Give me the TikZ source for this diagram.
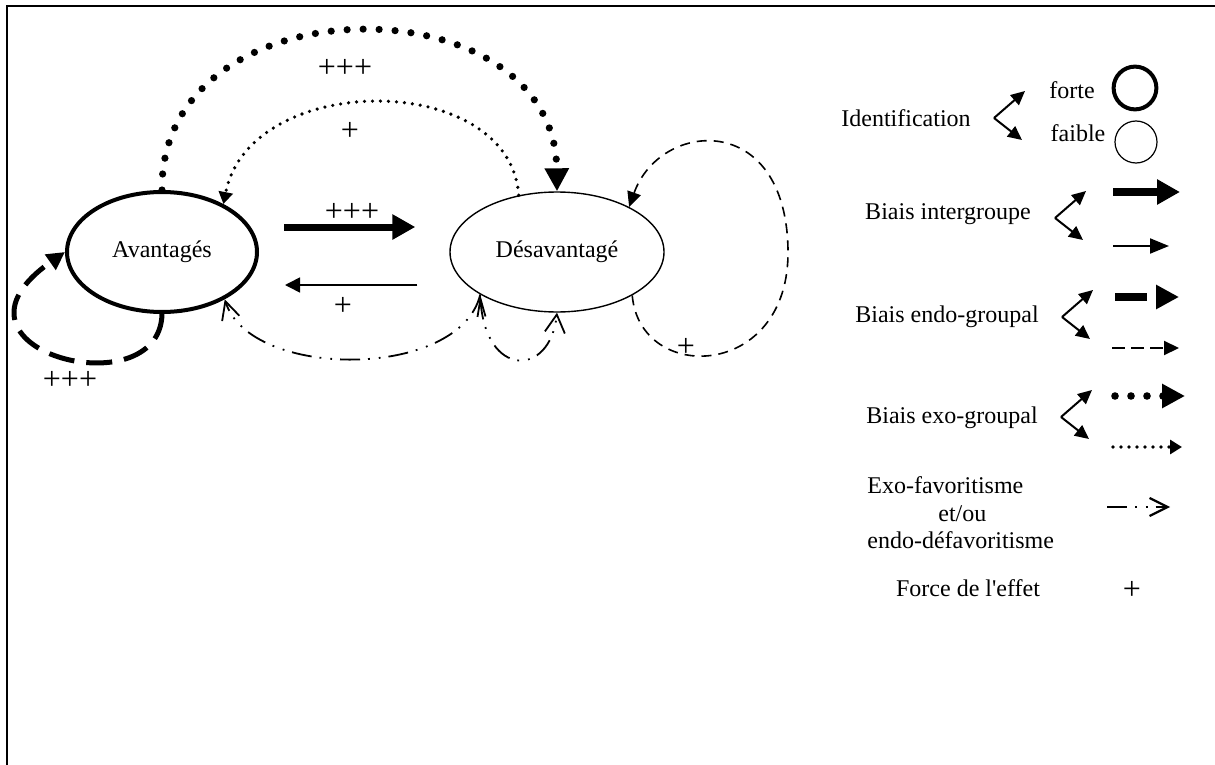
\documentclass[tikz,border=0pt]{standalone}
\usepackage{fontspec}
\setmainfont{Liberation Serif}
\usetikzlibrary{arrows.meta,calc,shapes.geometric}
\newcommand{\legfont}{\fontsize{12}{13.75}\selectfont}
\newcommand{\plusfont}{\fontsize{16}{18}\selectfont}
% fourche de la legende, sommet nomme #1
\def\fourche#1(#2,#3){\coordinate (#1) at (#2,#3); \draw[fork] (#1) -- ++(31,-27); \draw[fork] (#1) -- ++(28,22);}
\tikzset{
  grp/.style={ellipse, draw, inner sep=0pt, font=\legfont},
  lbl/.style={font=\legfont, inner sep=0pt},
  plus/.style={font=\plusfont, inner sep=0pt},
  fork/.style={line width=1pt, -{Triangle[length=7pt,width=6.5pt]}},
  interfort/.style={line width=3.5pt, -{Triangle[length=11.5pt,width=12pt]}},
  interfaible/.style={line width=0.8pt, -{Triangle[length=7.5pt,width=7.5pt]}},
  endofort/.style={line width=2.5pt, dash pattern=on 13pt off 6pt, -{Triangle[length=9pt,width=9pt]}},
  endofaible/.style={line width=0.8pt, dash pattern=on 5pt off 3.5pt, -{Triangle[length=7.5pt,width=7pt]}},
  exofort/.style={line width=3.6pt, line cap=round, dash pattern=on 0pt off 8pt, -{Triangle[length=11.5pt,width=11.5pt]}},
  exofaible/.style={line width=1.8pt, line cap=round, dash pattern=on 0pt off 4pt, -{Triangle[length=6pt,width=7pt]}},
  exofav/.style={line width=0.9pt, dash pattern=on 10pt off 4pt on 0.9pt off 4.5pt on 0.9pt off 4pt},
}
\begin{document}
\begin{tikzpicture}[x=0.5pt, y=-0.5pt]
  %%%%% CADRE %%%%%
  \useasboundingbox (0,0) rectangle (1215,765);
  \draw[line width=1pt] (7,765) -- (7,6) -- (1215,6);

  %%%%% GROUPES %%%%%
  \node[grp, line width=2pt, minimum width=95pt, minimum height=60pt] (avant) at (162,252) {Avantagés};
  \node[grp, line width=0.7pt, minimum width=107pt, minimum height=60pt] (desav) at (557,252) {Désavantagé};

  % biais intergroupe
  \draw[interfort] ($(avant.east)+(25,-25)$) -- ($(desav.west)+(-34,-25)$);
  \node[plus] (p1) at (352,212) {+++};
  \draw[interfaible] ($(desav.west)+(-32,33)$) -- ($(avant.east)+(26,33)$);
  \node[plus] (p2) at (343,306) {+};

  % biais exo-groupal
  \draw[exofort] (avant.north) .. controls (160,-21) and (555,-21) .. (desav.north);
  \node[plus] (p3) at (345,68) {+++};
  \draw[exofaible] (desav.124) .. controls (510,70) and (250,70) .. (avant.38);
  \node[plus] (p4) at (350,131) {+};

  % biais endo-groupal
  \draw[endofort] (avant.south) .. controls (160,410) and (-75,350) .. (avant.west);
  \node[plus] (p5) at (70,380) {+++};
  \draw[endofaible] (desav.-30) .. controls (640,385) and (790,380) .. (788,250)
    .. controls (786,110) and (660,120) .. (desav.32);
  \node[plus] (p6) at (686,347) {+};

  % exo-favoritisme / endo-defavoritisme
  \draw[exofav, -{Straight Barb[length=9pt,width=9pt]}] (desav.209) .. controls (460,380) and (250,380) .. (avant.-37);
  \draw[exofav, {Straight Barb[length=9pt,width=4pt]}-{Straight Barb[length=9pt,width=10pt]}] (desav.209) .. controls (485,378) and (550,378) .. (desav.south);

  %%%%% LEGENDE %%%%%
  \node[lbl] (lident) at (906,118) {Identification};
  \fourche{fid}(994,118)
  \node[lbl] (lforte) at (1072,90) {forte};
  \node[circle, draw, line width=2pt, minimum size=21.4pt, inner sep=0pt] (cforte) at (1135,88) {};
  \node[lbl] (lfaible) at (1078,133) {faible};
  \node[circle, draw, line width=0.6pt, minimum size=21pt, inner sep=0pt] (cfaible) at (1136,142) {};

  \node[lbl] (linter) at (948,214) {Biais intergroupe};
  \fourche{fint}(1055,218)
  \draw[interfort, line width=4pt] (1113,192) -- (1180,192);
  \draw[interfaible, line width=1pt, -{Triangle[length=9.5pt,width=7.5pt]}] (1113,246) -- (1169,246);

  \node[lbl] (lendo) at (947,317) {Biais endo-groupal};
  \fourche{fendo}(1062,317)
  \draw[endofort, line width=4pt, dash pattern=on 16pt off 4.5pt, -{Triangle[length=11.5pt,width=11.5pt]}] (1115,297) -- (1179,297);
  \draw[endofaible, line width=1pt, dash pattern=on 6.5pt off 3pt] (1112,348) -- (1179,348);

  \node[lbl] (lexo) at (952,418) {Biais exo-groupal};
  \fourche{fexo}(1061,417)
  \draw[exofort, line width=3.8pt] (1115,396) -- (1185,396);
  \draw[exofaible] (1113,447) -- (1182,447);

  \node[lbl, anchor=west, align=left] (lexofav) at (867,513) {Exo-favoritisme\\\hspace*{35.5pt}et/ou\\endo-défavoritisme};
  \draw[exofav, line width=1.1pt, -{Straight Barb[length=9pt,width=9pt]}] (1107,507) -- (1170,507);

  \node[lbl] (lforce) at (968,588) {Force de l\textquotesingle effet};
  \node[plus] (pforce) at (1132,590) {+};
\end{tikzpicture}
\end{document}
